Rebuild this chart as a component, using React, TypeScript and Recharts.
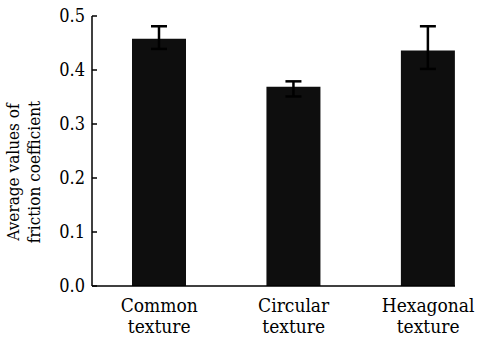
import React from 'react';
import { BarChart, Bar, XAxis, YAxis, ErrorBar } from 'recharts';

const lineOne = ['Common', 'Circular', 'Hexagonal'];
const lineTwo = ['texture', 'texture', 'texture'];
const positions = [0, 1, 2];
const means = [0.458, 0.369, 0.436];
const errLow = [0.019, 0.018, 0.034];
const errHigh = [0.023, 0.010, 0.045];
const yTicks = [0, 0.1, 0.2, 0.3, 0.4, 0.5];
const yLabelLines = ['Average values of', 'friction coefficient'];

const data = positions.map((p, i) => ({
  pos: p,
  value: means[i],
  err: [errLow[i], errHigh[i]],
}));

const FONT = "'DejaVu Serif Condensed', 'DejaVu Serif', serif";
const base = { fontFamily: FONT, fontStretch: 'condensed' as const };

const XTick = (props: any) => {
  const { x, y, payload } = props;
  const i = payload.value as number;
  return (
    <g>
      <text x={x} y={y + 18} textAnchor="middle" style={{ ...base, fontSize: 19 }} fill="#000">
        {lineOne[i]}
      </text>
      <text x={x} y={y + 39} textAnchor="middle" style={{ ...base, fontSize: 19 }} fill="#000">
        {lineTwo[i]}
      </text>
    </g>
  );
};

const YLabel = () => {
  const cy = 172;
  return (
    <g>
      <text x={13} y={cy} transform={`rotate(-90, 13, ${cy})`} textAnchor="middle" dominantBaseline="central" style={{ ...base, fontSize: 17 }} fill="#000">
        {yLabelLines[0]}
      </text>
      <text x={34} y={cy} transform={`rotate(-90, 34, ${cy})`} textAnchor="middle" dominantBaseline="central" style={{ ...base, fontSize: 17 }} fill="#000">
        {yLabelLines[1]}
      </text>
    </g>
  );
};

export default function App() {
  return (
    <div style={{ position: 'absolute', left: 0, top: 0, background: '#fff' }}>
      <BarChart width={487} height={338} data={data} margin={{ top: 16, right: 32, bottom: 22, left: 0 }}>
        <XAxis
          dataKey="pos"
          type="number"
          domain={[-0.5, 2.2]}
          ticks={positions}
          height={30}
          tickLine={false}
          axisLine={{ stroke: '#000', strokeWidth: 1.5 }}
          tick={<XTick />}
          interval={0}
          allowDataOverflow
        />
        <YAxis
          width={92}
          domain={[0, 0.5]}
          ticks={yTicks}
          tickFormatter={(v: number) => v.toFixed(1)}
          tickSize={-5}
          tickMargin={12}
          axisLine={{ stroke: '#000', strokeWidth: 1.5 }}
          tickLine={{ stroke: '#000', strokeWidth: 1.5 }}
          tick={{ style: { ...base, fontSize: 18 }, fill: '#000' }}
          label={<YLabel />}
        />
        <Bar dataKey="value" fill="#0e0e0e" barSize={54} isAnimationActive={false}>
          <ErrorBar dataKey="err" width={8} stroke="#000" strokeWidth={2.5} direction="y" />
        </Bar>
      </BarChart>
    </div>
  );
}
